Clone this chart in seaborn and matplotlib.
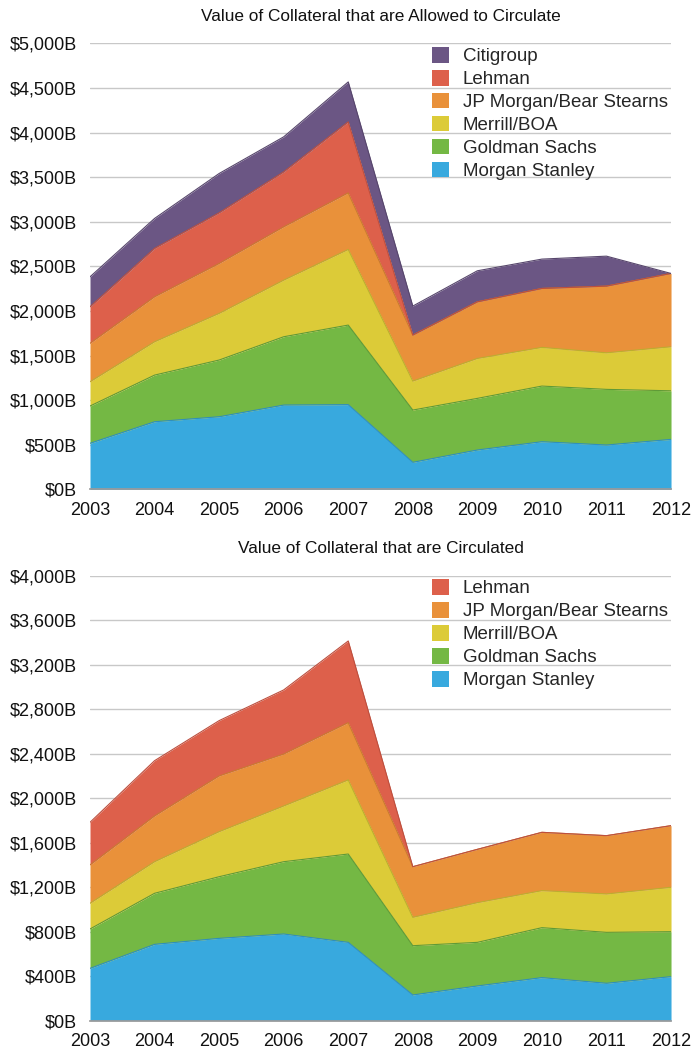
import matplotlib
matplotlib.use("Agg")
import matplotlib.pyplot as plt
import matplotlib.ticker as mticker
from matplotlib.patches import Patch
import numpy as np
import seaborn as sns

years = [2003, 2004, 2005, 2006, 2007, 2008, 2009, 2010, 2011, 2012]

# Top chart: collateral allowed to circulate ($B)
allowed_morgan_stanley = [516, 758, 814, 945, 950, 303, 441, 534, 497, 560]
allowed_goldman = [418, 523, 636, 766, 892, 586, 579, 624, 624, 545]
allowed_merrill = [272, 374, 523, 635, 848, 325, 448, 434, 410, 494]
allowed_jpm = [431, 504, 560, 598, 635, 516, 635, 661, 748, 822]
allowed_lehman = [410, 543, 568, 616, 796, 0, 0, 0, 0, 0]
allowed_citi = [336, 336, 441, 393, 448, 325, 348, 329, 336, 0]

# Bottom chart: collateral circulated ($B)
circ_morgan_stanley = [470, 686, 740, 779, 704, 231, 312, 387, 336, 396]
circ_goldman = [354, 459, 554, 650, 794, 443, 392, 449, 458, 404]
circ_merrill = [231, 284, 405, 501, 666, 255, 357, 333, 345, 399]
circ_jpm = [345, 411, 501, 467, 515, 455, 479, 524, 524, 554]
circ_lehman = [383, 497, 497, 576, 734, 0, 0, 0, 0, 0]

names = ["Morgan Stanley", "Goldman Sachs", "Merrill/BOA",
         "JP Morgan/Bear Stearns", "Lehman", "Citigroup"]
colors = ["#38a9de", "#74b844", "#dccb38", "#e9913a", "#dd604b", "#6b5684"]
edges = ["#2f8fbd", "#5f9a37", "#bcae2e", "#c97a2f", "#bd4f3e", "#57466c"]

top_title = "Value of Collateral that are Allowed to Circulate"
bottom_title = "Value of Collateral that are Circulated"

sns.set_theme(style="white")
plt.rcParams["font.family"] = ["Liberation Sans", "DejaVu Sans"]

fig = plt.figure(figsize=(6.94, 10.53), dpi=100)
ax1 = fig.add_axes([0.1297, 0.5353, 0.8372, 0.4234])
ax2 = fig.add_axes([0.1297, 0.0307, 0.8372, 0.4226])


def draw(ax, series, ymax, step, title):
    n = len(series)
    ax.stackplot(years, *series, colors=colors[:n], edgecolor=None,
                 linewidth=0, zorder=2)
    cum = np.cumsum(np.array(series, dtype=float), axis=0)
    for i in range(n):
        ax.plot(years, cum[i], color=edges[i], lw=0.8, zorder=3)
    ax.set_xlim(years[0], years[-1])
    ax.set_ylim(0, ymax)
    ax.yaxis.set_major_locator(mticker.MultipleLocator(step))
    ax.yaxis.set_major_formatter(mticker.FuncFormatter(lambda v, p: f"${int(v):,}B"))
    ax.set_xticks(years)
    ax.grid(axis="y", color="#c8c8c8", lw=1.0, zorder=0)
    ax.grid(axis="x", visible=False)
    sns.despine(ax=ax, left=True, top=True, right=True)
    ax.spines["bottom"].set_color("#9a9a9a")
    ax.tick_params(axis="y", labelsize=13, colors="#111111", length=0, pad=9.5)
    ax.tick_params(axis="x", labelsize=13, colors="#111111", length=0, pad=9)
    ax.set_title(title, fontsize=12.4, color="#111111", pad=16)
    handles = [Patch(facecolor=colors[i], edgecolor="none") for i in range(n)][::-1]
    labels = names[:n][::-1]
    ax.legend(handles, labels, loc="upper left", bbox_to_anchor=(0.5886, 0.992),
              frameon=False, fontsize=13.5, handlelength=0.9, handleheight=0.9,
              handletextpad=0.75, labelspacing=0.25, borderaxespad=0,
              borderpad=0)


draw(ax1, [allowed_morgan_stanley, allowed_goldman, allowed_merrill,
           allowed_jpm, allowed_lehman, allowed_citi], 5000, 500, top_title)
draw(ax2, [circ_morgan_stanley, circ_goldman, circ_merrill,
           circ_jpm, circ_lehman], 4000, 400, bottom_title)

fig.savefig("out.png", dpi=100)
